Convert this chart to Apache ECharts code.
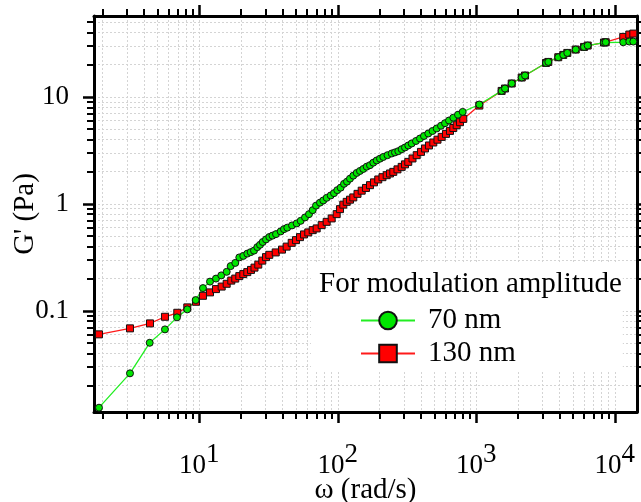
<!DOCTYPE html>
<html>
<head>
<meta charset="utf-8">
<script src="https://cdn.jsdelivr.net/npm/echarts@6/dist/echarts.min.js"></script>
<style>html,body{margin:0;padding:0;background:#fff}#c{width:641px;height:502px}</style>
</head>
<body>
<div id="c"></div>
<script>
// ---- data ----
const omega70 = [1.887,3.159,4.385,5.652,6.902,8.192,9.42,10.63,11.95,13.20,14.41,15.77,16.85,18.19,19.45,20.78,22.21,23.50,24.83,26.23,27.44,28.70,30.31,32.02,33.77,35.80,38.70,40.88,43.19,46.70,50.49,53.96,57.98,61.96,65.88,69.60,74.38,78.56,83.14,88.88,93.89,99.17,104.9,110.9,116.5,122.5,129.4,136.9,144.6,152.8,161.7,170.8,180.4,190.9,201.7,213.1,228.5,245.1,258.8,273.4,289.3,305.6,322.8,341.6,366.9,392.2,419.1,450.1,482.8,517.7,556.1,594.3,635.3,682.3,737.7,797.6,1052,1524,1611,1802,2128,2249,3186,3311,3908,4246,4540,5221,5996,6374,8354,8600,11510,12730,13610];
const g70 = [0.01241,0.0260,0.0502,0.0670,0.0868,0.1031,0.1259,0.1630,0.1874,0.2000,0.2142,0.2314,0.2617,0.2803,0.3155,0.3259,0.3424,0.3536,0.3652,0.3938,0.4138,0.4395,0.4650,0.4896,0.5046,0.5211,0.5522,0.5802,0.5992,0.6282,0.6559,0.6936,0.7461,0.8012,0.8731,0.9620,1.026,1.076,1.138,1.198,1.259,1.343,1.417,1.538,1.613,1.720,1.835,1.945,2.030,2.120,2.227,2.300,2.427,2.545,2.645,2.744,2.852,2.958,3.029,3.108,3.245,3.366,3.514,3.669,3.871,4.085,4.311,4.549,4.800,5.067,5.370,5.679,6.018,6.391,6.817,7.241,8.49,11.38,11.98,13.35,15.18,15.85,20.78,21.24,23.50,24.70,25.78,27.73,29.33,30.23,32.25,32.45,32.45,32.95,32.95];
const omega130 = [1.887,3.159,4.406,5.652,6.937,8.192,9.466,10.63,11.95,13.20,14.51,15.77,17.02,18.19,19.45,20.78,22.21,23.62,25.04,26.67,28.51,30.31,32.02,35.62,39.55,42.76,46.47,49.91,53.34,57.02,61.24,65.88,70.41,76.52,83.14,90.36,98.18,103.7,109.6,116.0,122.5,129.4,138.8,148.8,159.8,170.8,182.5,196.0,210.2,225.5,238.2,251.6,269.8,289.3,305.6,322.8,346.2,371.3,398.7,426.1,455.4,489.2,524.7,562.6,604.2,645.9,682.3,721.9,762.6,805.5,1052,1524,1611,1802,2128,2249,3186,3311,3908,4246,4540,5221,5996,6374,8354,8600,11510,12730,13610];
const g130 = [0.0602,0.0685,0.0762,0.0879,0.0958,0.1076,0.1214,0.1381,0.1486,0.1595,0.1684,0.1788,0.1915,0.2000,0.2110,0.2203,0.2299,0.2411,0.2533,0.2703,0.2945,0.3176,0.3337,0.3513,0.3733,0.3981,0.4320,0.4578,0.4884,0.5176,0.5404,0.5677,0.5889,0.6324,0.6787,0.7304,0.8012,0.8922,0.983,1.044,1.094,1.148,1.240,1.328,1.408,1.495,1.588,1.690,1.776,1.854,1.923,1.991,2.101,2.217,2.340,2.469,2.657,2.852,3.062,3.294,3.514,3.748,3.981,4.229,4.511,4.811,5.121,5.439,5.801,6.230,8.30,11.38,11.98,13.35,15.18,15.85,20.78,21.24,23.50,24.70,25.78,27.73,29.33,30.23,32.25,32.45,36.4,38.3,39.1];
const seriesNames = ['70 nm', '130 nm'];
const legendTitle = 'For modulation amplitude';
const xTitle = 'ω (rad/s)';
const yTitle = "G' (Pa)";
const xMajorTicks = [10, 100, 1000, 10000];
const xMinorTicks = [2,3,4,5,6,7,8,9,20,30,40,50,60,70,80,90,200,300,400,500,600,700,800,900,2000,3000,4000,5000,6000,7000,8000,9000];
const yMajorTicks = [0.1, 1, 10];
const yMajorLabels = ['0.1', '1', '10'];
const yMinorTicks = [0.02,0.03,0.04,0.05,0.06,0.07,0.08,0.09,0.2,0.3,0.4,0.5,0.6,0.7,0.8,0.9,2,3,4,5,6,7,8,9,20,30,40,50];
const xRange = [1.737, 14467];
const yRange = [0.01131, 57.1];

// ---- chart ----
const FONT = 'Liberation Serif';
const chart = echarts.init(document.getElementById('c'), null, {renderer: 'canvas'});
const gridLine = {show: true, lineStyle: {color: '#d4d4d4', width: 1, type: [2, 2]}};
function xAxisDef(pos, major, showLabel) {
  return {
    type: 'log', position: pos, min: xRange[0], max: xRange[1], logBase: 10,
    axisLine: {show: major, onZero: false, lineStyle: {color: '#000', width: 3}},
    axisTick: {show: true, inside: false, length: major ? 11 : 7, customValues: major ? xMajorTicks : xMinorTicks, lineStyle: {color: '#000', width: major ? 2.5 : 2}},
    axisLabel: showLabel ? {
      show: true, customValues: xMajorTicks, margin: 40,
      formatter: v => '{b|10}{s|' + Math.round(Math.log10(v)) + '}',
      rich: {
        b: {fontFamily: FONT, fontSize: 27, color: '#000', lineHeight: 27, padding: [11, 0, 0, 0], verticalAlign: 'bottom'},
        s: {fontFamily: FONT, fontSize: 27, color: '#000', lineHeight: 27, padding: [0, 0, 11, 0], verticalAlign: 'bottom'}
      }
    } : {show: false},
    splitLine: (pos === 'bottom') ? gridLine : {show: false},
    name: showLabel ? xTitle : '', nameLocation: 'middle', nameGap: 64, nameMoveOverlap: false,
    nameTextStyle: {fontFamily: FONT, fontSize: 29, color: '#000'}
  };
}
function yAxisDef(pos, major, showLabel) {
  return {
    type: 'log', position: pos, min: yRange[0], max: yRange[1], logBase: 10,
    axisLine: {show: major, onZero: false, lineStyle: {color: '#000', width: 3}},
    axisTick: {show: true, inside: false, length: major ? 11 : 7, customValues: major ? yMajorTicks : yMinorTicks, lineStyle: {color: '#000', width: major ? 2.5 : 2}},
    axisLabel: showLabel ? {
      show: true, customValues: yMajorTicks, margin: 25,
      fontFamily: FONT, fontSize: 27, color: '#000',
      formatter: v => yMajorLabels[yMajorTicks.findIndex(t => Math.abs(Math.log10(t) - Math.log10(v)) < 1e-6)]
    } : {show: false},
    splitLine: (pos === 'left') ? gridLine : {show: false},
    name: showLabel ? yTitle : '', nameLocation: 'middle', nameGap: 54, nameRotate: 90, nameMoveOverlap: false,
    nameTextStyle: {fontFamily: FONT, fontSize: 29, color: '#000'}
  };
}
const seriesColors = {'70 nm': {line: '#22ee22', fill: '#00e600', symbol: 'circle'}, '130 nm': {line: '#ff1a1a', fill: '#ff0000', symbol: 'rect'}};
function makeSeries(name, xs, ys) {
  const c = seriesColors[name];
  return {
    name: name, type: 'line', xAxisIndex: 0, yAxisIndex: 0,
    data: xs.map((x, i) => [x, ys[i]]),
    symbol: c.symbol, symbolSize: 7, showAllSymbol: true,
    lineStyle: {color: c.line, width: 1.3},
    itemStyle: {color: c.fill, borderColor: '#111', borderWidth: 1},
    emphasis: {disabled: true}, animation: false
  };
}
chart.setOption({
  animation: false,
  backgroundColor: '#fff',
  grid: {left: 94, right: 4, top: 16, bottom: 90, containLabel: false, outerBoundsMode: 'none'},
  title: {text: legendTitle, left: 319, top: 270, padding: 0, z: 10,
    textStyle: {fontFamily: FONT, fontSize: 29, fontWeight: 'normal', color: '#000'}},
  legend: {
    data: seriesNames, orient: 'vertical', left: 311, top: 262,
    padding: [44, 107, 2, 49], backgroundColor: '#fff',
    itemWidth: 54, itemHeight: 22, itemGap: 4,
    textStyle: {fontFamily: FONT, fontSize: 29, color: '#000', lineHeight: 29, padding: [0, 0, 0, 8]},
    selectedMode: false
  },
  xAxis: [xAxisDef('bottom', true, true), xAxisDef('bottom', false, false), xAxisDef('top', true, false), xAxisDef('top', false, false)],
  yAxis: [yAxisDef('left', true, true), yAxisDef('left', false, false), yAxisDef('right', true, false), yAxisDef('right', false, false)],
  series: [makeSeries('130 nm', omega130, g130), makeSeries('70 nm', omega70, g70)]
});
</script>
</body>
</html>
